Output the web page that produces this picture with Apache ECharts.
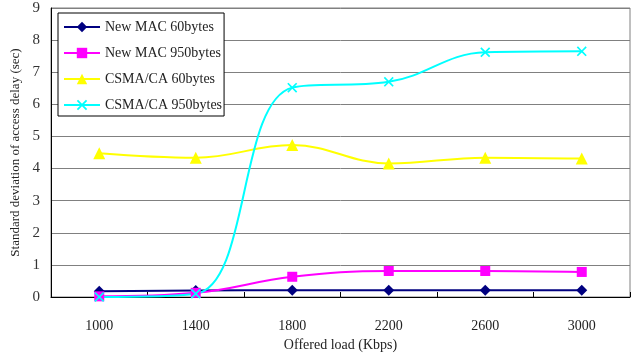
<!DOCTYPE html>
<html>
<head>
<meta charset="utf-8">
<script src="https://cdn.jsdelivr.net/npm/echarts@6/dist/echarts.min.js"></script>
<style>html,body{margin:0;padding:0;background:#fff}#c{width:634px;height:353px}</style>
</head>
<body>
<div id="c"></div>
<script>
const categories = ['1000', '1400', '1800', '2200', '2600', '3000'];
const newMac60 = [0.18, 0.20, 0.21, 0.21, 0.21, 0.21];
const newMac950 = [0.02, 0.13, 0.63, 0.81, 0.81, 0.78];
const csma60 = [4.48, 4.34, 4.73, 4.16, 4.34, 4.31];
const csma950 = [0.0, 0.1, 6.52, 6.70, 7.62, 7.65];
const yTicks = [0, 1, 2, 3, 4, 5, 6, 7, 8, 9];

const FONT = 'Liberation Serif';
const xSym = 'path://M0,1.2L1.2,0L5,3.8L8.8,0L10,1.2L6.2,5L10,8.8L8.8,10L5,6.2L1.2,10L0,8.8L3.8,5Z';

const chart = echarts.init(document.getElementById('c'));
function mk(name, data, color, symbol, size) {
  return {
    name, type: 'line', data, smooth: 0.4, symbol, symbolSize: size,
    lineStyle: { color, width: 2 },
    itemStyle: { color },
    emphasis: { disabled: true },
    z: 3
  };
}
chart.setOption({
  animation: false,
  backgroundColor: '#fff',
  textStyle: { fontFamily: FONT },
  grid: {
    left: 51, right: 4, top: 8, bottom: 56,
    containLabel: false, outerBoundsMode: 'none',
    show: true, borderColor: '#808080', borderWidth: 1, backgroundColor: 'transparent'
  },
  legend: {
    orient: 'vertical', left: 58, top: 13,
    backgroundColor: '#fff', borderColor: '#000', borderWidth: 1,
    padding: [7, 2, 4, 5],
    itemWidth: 36, itemHeight: 13, itemGap: 12,
    textStyle: { fontFamily: FONT, fontSize: 14, color: '#222' },
    data: ['New MAC 60bytes', 'New MAC 950bytes', 'CSMA/CA 60bytes', 'CSMA/CA 950bytes']
  },
  xAxis: {
    type: 'category', data: categories, boundaryGap: true,
    name: 'Offered load (Kbps)', nameLocation: 'middle', nameGap: 40,
    nameTextStyle: { fontFamily: FONT, fontSize: 14, color: '#222' },
    axisLine: { lineStyle: { color: '#000', width: 1 } },
    axisTick: { show: true, inside: true, length: 5, alignWithLabel: false, lineStyle: { color: '#000' } },
    axisLabel: { fontFamily: FONT, fontSize: 14, color: '#222', margin: 22 },
    splitLine: { show: false }
  },
  yAxis: {
    type: 'value', min: 0, max: 9, interval: 1,
    name: 'Standard deviation of access delay (sec)', nameLocation: 'middle', nameGap: 24,
    nameTextStyle: { fontFamily: FONT, fontSize: 13, color: '#222' },
    axisLine: { show: true, lineStyle: { color: '#000', width: 1 } },
    axisTick: { show: false },
    axisLabel: { fontFamily: FONT, fontSize: 15, color: '#333', margin: 11,
      formatter: v => yTicks.includes(v) ? String(v) : '' },
    splitLine: { show: true, lineStyle: { color: '#808080', width: 1 } }
  },
  series: [
    mk('New MAC 60bytes', newMac60, '#000080', 'diamond', 11),
    mk('New MAC 950bytes', newMac950, '#FF00FF', 'rect', 10),
    mk('CSMA/CA 60bytes', csma60, '#FFFF00', 'triangle', 12),
    mk('CSMA/CA 950bytes', csma950, '#00FFFF', xSym, 10)
  ]
});
</script>
</body>
</html>
